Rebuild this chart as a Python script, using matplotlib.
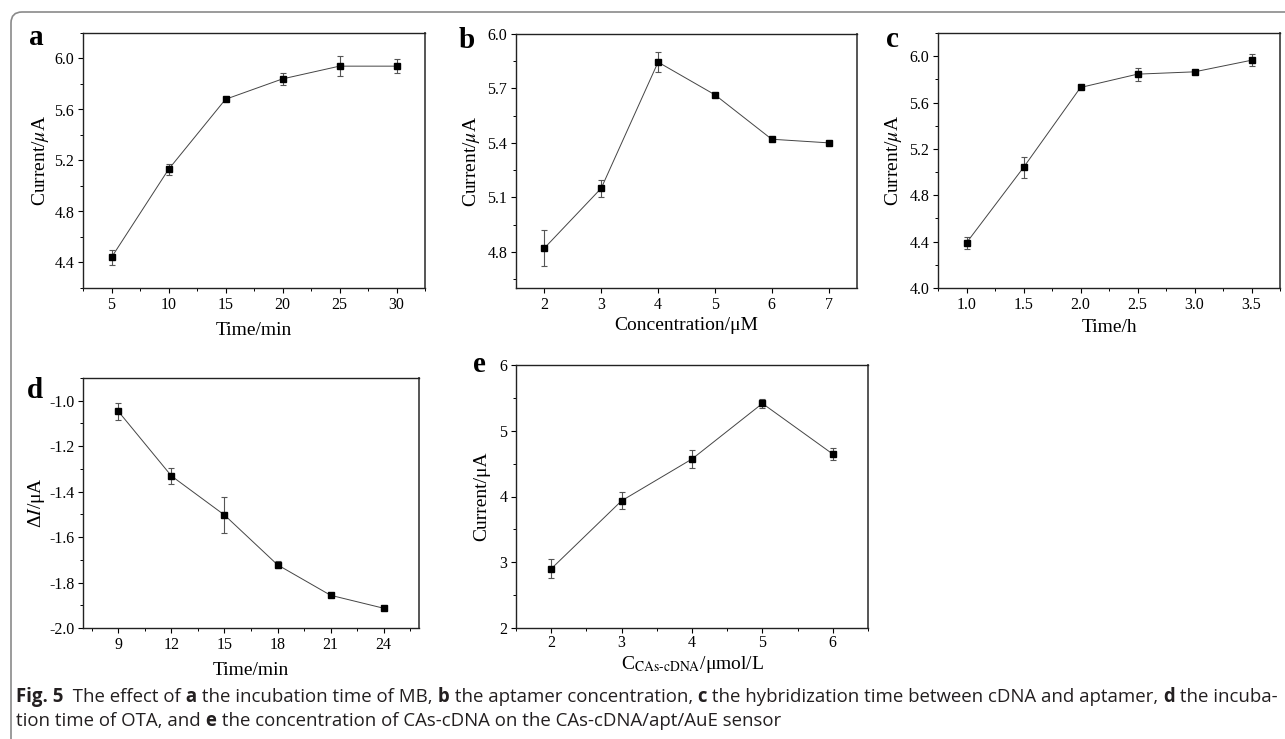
import matplotlib
matplotlib.use('Agg')
import matplotlib.pyplot as plt
from matplotlib.patches import FancyBboxPatch
from matplotlib.transforms import IdentityTransform
from matplotlib.font_manager import FontProperties
from matplotlib.ticker import MultipleLocator, FormatStrFormatter

# ---- data ----
a_x = [5, 10, 15, 20, 25, 30]
a_y = [4.44, 5.13, 5.68, 5.84, 5.94, 5.94]
a_err = [0.06, 0.045, 0.01, 0.05, 0.08, 0.055]

b_x = [2, 3, 4, 5, 6, 7]
b_y = [4.82, 5.15, 5.845, 5.665, 5.42, 5.40]
b_err = [0.10, 0.047, 0.055, 0.008, 0.008, 0.008]

c_x = [1.0, 1.5, 2.0, 2.5, 3.0, 3.5]
c_y = [4.39, 5.04, 5.73, 5.845, 5.865, 5.965]
c_err = [0.05, 0.09, 0.012, 0.055, 0.012, 0.05]

d_x = [9, 12, 15, 18, 21, 24]
d_y = [-1.047, -1.331, -1.503, -1.722, -1.856, -1.913]
d_err = [0.036, 0.036, 0.08, 0.016, 0.008, 0.006]

e_x = [2, 3, 4, 5, 6]
e_y = [2.90, 3.935, 4.57, 5.415, 4.645]
e_err = [0.145, 0.13, 0.13, 0.075, 0.09]

caption_1 = [('Fig. 5', True), ('  The effect of', False), (' a', True),
             (' the incubation time of MB,', False), (' b', True),
             (' the aptamer concentration,', False), (' c', True),
             (' the hybridization time between cDNA and aptamer,', False),
             (' d', True), (' the incuba-', False)]
caption_2 = [('tion time of OTA, and', False), (' e', True),
             (' the concentration of CAs-cDNA on the CAs-cDNA/apt/AuE sensor', False)]

plt.rcParams['font.family'] = 'serif'
plt.rcParams['font.serif'] = ['Liberation Serif', 'DejaVu Serif']
plt.rcParams['mathtext.fontset'] = 'stix'
plt.rcParams['axes.unicode_minus'] = False

W, H = 1285, 739
fig = plt.figure(figsize=(W / 100, H / 100), dpi=100)


def panel(box, x, y, err, xlim, ylim, xmaj, xmin, ymaj, ymin, yfmt,
          xlabel, ylabel, letter, ylab_px, xlab_px, let_px, tpad=2.5):
    l, t, r, b = box
    ax = fig.add_axes([l / W, 1 - b / H, (r - l) / W, (b - t) / H])
    ax.errorbar(x, y, yerr=err, color='#444444', lw=0.7, marker='s', ms=4.5,
                mfc='black', mec='black', ecolor='#555555', elinewidth=0.8,
                capsize=2, capthick=0.8)
    ax.set_xlim(*xlim)
    ax.set_ylim(*ylim)
    ax.xaxis.set_major_locator(MultipleLocator(xmaj))
    if xmin:
        ax.xaxis.set_minor_locator(MultipleLocator(xmin))
    ax.yaxis.set_major_locator(MultipleLocator(ymaj))
    ax.yaxis.set_minor_locator(MultipleLocator(ymin))
    ax.yaxis.set_major_formatter(FormatStrFormatter(yfmt))
    ax.tick_params(which='major', direction='out', length=3.8, width=0.8,
                   labelsize=11.5, pad=2.5, top=False, right=False)
    ax.tick_params(axis='x', which='major', pad=tpad)
    ax.tick_params(which='minor', direction='out', length=2.3, width=0.7,
                   top=False, right=False)
    for s in ax.spines.values():
        s.set_color('#222222')
        s.set_linewidth(1.0)
    ax.spines['right'].set_color('#555555')
    ax.spines['right'].set_linewidth(1.4)
    ax.set_ylabel(ylabel, fontsize=14, va='center')
    ax.yaxis.set_label_coords((ylab_px - l) / (r - l), 0.5)
    ax.set_xlabel(xlabel, fontsize=14, va='baseline')
    ax.xaxis.set_label_coords(0.5, (b - xlab_px) / (b - t))
    fig.text(let_px[0] / W, 1 - let_px[1] / H, letter, fontsize=21,
             fontweight='bold', ha='center', va='baseline')
    return ax


panel((83, 33, 425, 288), a_x, a_y, a_err, (2.5, 32.5), (4.2, 6.2), 5, 2.5,
      0.4, 0.2, '%.1f', 'Time/min', r'Current/$\mu$A', 'a', 40, 335, (36, 45))
panel((516, 34, 857, 288), b_x, b_y, b_err, (1.5, 7.5), (4.6, 6.0), 1, None,
      0.3, 0.15, '%.1f', 'Concentration/μM', r'Current/$\mu$A', 'b', 472, 330,
      (467, 48))
panel((938, 33, 1280, 288), c_x, c_y, c_err, (0.75, 3.75), (4.0, 6.2), 0.5,
      0.25, 0.4, 0.2, '%.1f', 'Time/h', r'Current/$\mu$A', 'c', 893, 332,
      (892, 47))
panel((83, 378, 419, 628), d_x, d_y, d_err, (7, 26), (-2.0, -0.9), 3, 1.5,
      0.2, 0.1, '%.1f', 'Time/min', r'Δ$I$/μA', 'd', 36, 675, (35, 398))
panel((516, 365, 868, 628), e_x, e_y, e_err, (1.5, 6.5), (2, 6), 1, 0.5,
      1, 0.5, '%d', r'C$_{\mathrm{CAs\text{-}cDNA}}$/μmol/L', 'Current/μA', 'e',
      482, 669, (479, 372), tpad=1.5)

# frame with rounded top-left corner
frame = FancyBboxPatch((11, -60), 1400, H - 12 + 60,
                       boxstyle='round,pad=0,rounding_size=11',
                       transform=IdentityTransform(), fill=False,
                       edgecolor='#8a8a8a', linewidth=1.2)
fig.add_artist(frame)

# caption, pieces laid out one after another
renderer = fig.canvas.get_renderer()


def piece_width(s, prop):
    w1 = renderer.get_text_width_height_descent(s + '|', prop, ismath=False)[0]
    w2 = renderer.get_text_width_height_descent('|', prop, ismath=False)[0]
    return w1 - w2


def make_prop(bold, size):
    return FontProperties(family='Open Sans', weight='bold' if bold else 'normal',
                          size=size)


total = sum(piece_width(s, make_prop(bo, 10)) for s, bo in caption_1)
cap_size = 10 * (1278 - 16) / total


def draw_line(pieces, x0, y0):
    x = x0
    for s, bo in pieces:
        prop = make_prop(bo, cap_size)
        fig.text(x / W, 1 - y0 / H, s, fontproperties=prop, color='#231f20',
                 va='baseline', ha='left')
        x += piece_width(s, prop)


draw_line(caption_1, 16, 702)
draw_line(caption_2, 16, 726)

fig.savefig('out.png', dpi=100)
